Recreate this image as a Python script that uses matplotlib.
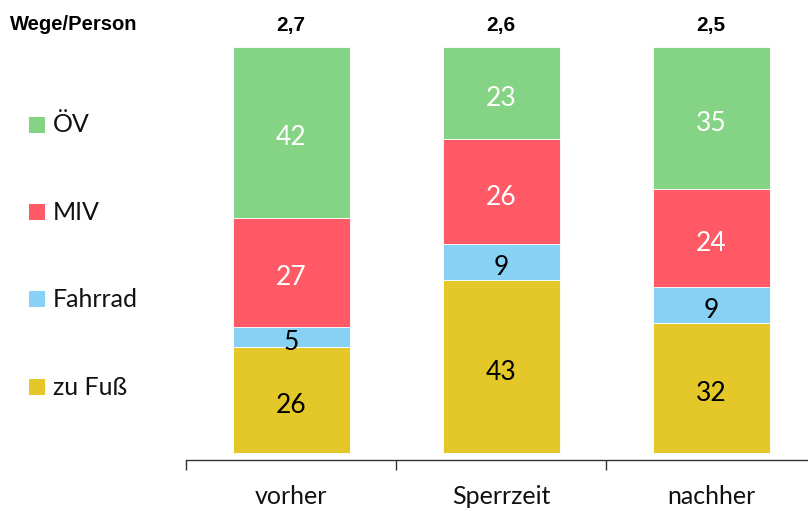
import matplotlib
matplotlib.use("Agg")
import matplotlib.pyplot as plt
from matplotlib.patches import Rectangle
import numpy as np

categories = ["vorher", "Sperrzeit", "nachher"]
totals = ["2,7", "2,6", "2,5"]
modes = ["zu Fuß", "Fahrrad", "MIV", "ÖV"]
zu_fuss = [26, 43, 32]
fahrrad = [5, 9, 9]
miv = [27, 26, 24]
oev = [42, 23, 35]

colors = ["#E4C82A", "#87D1F5", "#FF5A66", "#85D385"]
text_colors = ["black", "black", "white", "white"]

series = [zu_fuss, fahrrad, miv, oev]
sums = np.sum(series, axis=0)
shares = [np.array(s) / sums * 100 for s in series]

body_font = ["Lato", "DejaVu Sans"]
head_font = ["Liberation Sans Narrow", "Liberation Sans", "DejaVu Sans"]

W, H = 808, 511
fig = plt.figure(figsize=(W / 100, H / 100), dpi=100)
ax = fig.add_axes([186 / W, (H - 460) / H, (808 - 186) / W, (460 - 47) / H])

x = np.arange(len(categories))
bottom = np.zeros(len(categories))
for vals, sh, col, tc in zip(series, shares, colors, text_colors):
    ax.bar(x, sh, bottom=bottom, width=117 / 210, color=col,
           edgecolor="white", linewidth=0.6)
    for xi, v, b, h in zip(x, vals, bottom, sh):
        ax.annotate(str(v), (xi, b + h / 2), xytext=(0, -4),
                    textcoords="offset points", ha="center", va="center",
                    color=tc, fontsize=19, family=body_font)
    bottom += sh

ax.set_xlim(-0.5, 2.5 - 8 / 210)
ax.set_ylim(-7 / 4.06, 100)
for s in ["top", "right", "left"]:
    ax.spines[s].set_visible(False)
ax.spines["bottom"].set_linewidth(1.0)
ax.spines["bottom"].set_color("#333333")
ax.set_yticks([])
ax.set_xticks([-0.5, 0.5, 1.5])
ax.set_xticklabels([])
ax.tick_params(axis="x", length=7.5, width=1.0, color="#333333", direction="out")
for xi, c in zip(x, categories):
    ax.text(xi, -0.088, c, transform=ax.get_xaxis_transform(), ha="center",
            va="center", fontsize=18, family=body_font, color="#111111")

# totals
for xi, t in zip(x, totals):
    ax.text(xi, 1 + (47 - 25) / 413, t, transform=ax.get_xaxis_transform(),
            ha="center", va="center", fontsize=15, fontweight="bold",
            family=head_font)
fig.text(10 / W, 1 - 25 / H, "Wege/Person", ha="left", va="center",
         fontsize=14.5, fontweight="bold", family=head_font)

# legend (manual)
leg_y = [387, 299, 212, 125]
for lab, col, yc in zip(modes, colors, leg_y):
    fig.add_artist(Rectangle((29 / W, 1 - (yc + 8) / H), 16 / W, 16 / H,
                             transform=fig.transFigure, facecolor=col,
                             edgecolor="none"))
    fig.text(53 / W, 1 - yc / H, lab, ha="left", va="center",
             fontsize=18, family=body_font, color="#111111")

fig.savefig("out.png", dpi=100)
